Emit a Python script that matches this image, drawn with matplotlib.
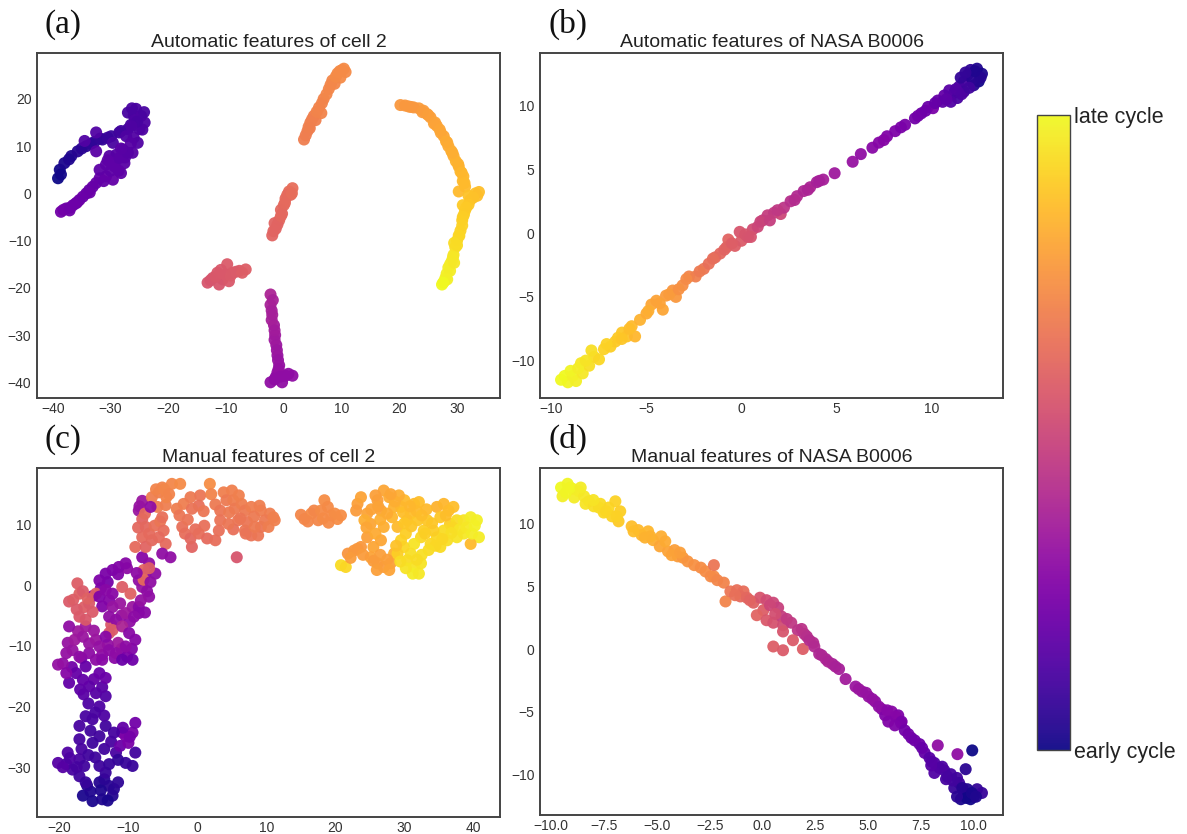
import matplotlib
matplotlib.use("Agg")
import matplotlib.pyplot as plt

plt.rcParams['font.family'] = ['Liberation Sans', 'DejaVu Sans']

# ---------------- data ----------------
# (a) Automatic features of cell 2
a_x = [-39.1, -38.8, -38.0, -36.8, -35.7, -34.2, -32.8, -31.4, -29.9, -28.5, -27.0,
       -38.6, -37.2, -35.0, -33.4, -31.8, -30.5, -28.2, -26.5, -26.0,
       -34.5, -32.5, -32.5, -29.6, -29.0, -29.3,
       -27.0, -25.6, -24.7, -24.1, -25.0, -25.3, -26.2, -27.3, -27.6, -28.2, -30.2, -27.9, -25.8, -26.0,
       -24.5, -25.4, -26.4, -24.2, -26.3,
       -29.6, -30.8, -31.9, -33.1, -34.2, -35.4, -36.5, -37.7, -38.6, -37.1, -36.0, -33.7, -31.9, -30.8, -28.6, -27.5,
       -38.2, -37.0, -35.8, -34.8, -33.6, -32.5, -31.2, -30.0, -29.3, -28.5, -27.0, -26.5, -28.2, -30.5,
       -2.3, -2.3, -2.0, -1.7, -1.5, -1.3, -1.1, -0.8, -1.1, -2.3, -1.4, 0.3, 1.5, -0.3, -2.1, -1.6,
       -1.9, -2.1, -1.6, -1.2, -1.0, -0.9, -1.6, -0.6, 0.8,
       -13.2, -12.3, -11.5, -10.6, -9.8, -8.9, -7.7, -6.6, -11.2, -9.5,
       -12.7, -11.8, -10.1, -9.2, -8.3, -7.2, -10.9,
       -2.0, -1.4, -0.8, -0.3, 0.0, 0.3, 0.9, 1.5, -1.6, -0.5, 1.2,
       -1.8, -1.1, -0.5, 0.2, 0.6, 1.4,
       3.5, 4.1, 4.6, 5.2, 6.1, 6.9, 7.8, 8.4, 9.3, 10.1, 10.7, 5.5, 6.5, 9.8, 4.5, 8.8,
       3.8, 4.3, 4.9, 5.7, 6.6, 7.4, 8.1, 9.0, 9.7, 10.4,
       20.2, 21.6, 23.4, 24.2, 25.4, 26.5, 27.7, 28.5, 29.4, 30.3, 31.1, 31.4, 30.3,
       26.0, 27.2, 28.1, 29.0, 29.8, 30.6, 31.0, 22.5, 24.8,
       21.0, 22.0, 24.0, 25.0, 26.2, 27.0, 28.3, 29.2, 30.2, 30.8, 31.3,
       33.2, 32.3, 31.4, 30.9, 30.6, 30.0, 29.7, 29.1, 28.5, 28.0, 27.4,
       33.5, 32.0, 31.0, 31.2, 30.4, 29.4, 28.8, 28.2, 27.8,
       33.8, 32.8, 32.0, 31.6, 31.0, 30.9, 30.3, 30.0, 29.5, 29.3, 28.8, 28.3, 27.6, 29.5]
a_y = [3.2, 5.0, 6.4, 7.9, 8.9, 10.0, 10.9, 11.4, 12.1, 12.9, 13.6,
       4.0, 7.2, 9.5, 10.5, 11.6, 11.8, 13.2, 14.5, 16.5,
       11.1, 12.9, 8.9, 10.7, 8.2, 5.7,
       17.1, 17.9, 16.4, 15.0, 13.6, 10.7, 8.6, 12.1, 6.4, 4.3, 7.9, 9.3, 15.5, 11.8,
       13.5, 15.2, 14.2, 17.2, 18.0,
       2.9, 3.6, 3.2, 1.4, 0.0, -1.4, -2.5, -3.2, -3.9, -3.6, -2.1, 0.7, 5.0, 6.1, 4.8, 7.6,
       -3.5, -3.0, -1.9, -0.7, 0.2, 2.2, 2.6, 4.8, 6.5, 7.5, 8.6, 10.6, 9.5, 7.0,
       -21.4, -23.6, -25.7, -27.9, -30.0, -32.1, -34.3, -36.4, -37.9, -40.0, -38.9, -38.6, -38.6, -40.0, -24.8, -31.0,
       -22.6, -26.8, -29.0, -33.2, -35.3, -37.2, -39.4, -38.8, -38.2,
       -18.9, -17.9, -16.8, -18.2, -15.0, -16.8, -16.4, -16.1, -19.3, -18.6,
       -18.4, -17.6, -17.2, -17.4, -16.6, -16.8, -16.2,
       -8.9, -7.5, -5.7, -4.3, -2.5, -1.1, 0.4, 1.1, -6.3, -3.5, -0.3,
       -8.0, -6.6, -4.8, -2.0, -0.3, 0.0,
       11.4, 13.2, 15.0, 16.4, 18.2, 20.0, 22.1, 23.9, 25.4, 26.1, 25.7, 15.5, 17.0, 24.5, 13.8, 23.2,
       12.3, 14.1, 15.7, 17.3, 19.1, 21.0, 23.0, 24.7, 25.9, 26.4,
       18.7, 18.4, 18.0, 17.5, 16.1, 14.3, 12.1, 10.0, 7.9, 5.7, 3.6, 1.4, 0.4,
       14.8, 12.8, 11.0, 9.0, 6.8, 4.6, 2.6, 18.2, 16.8,
       18.6, 18.3, 17.2, 16.6, 15.0, 13.5, 10.8, 8.6, 6.2, 4.4, 2.2,
       0.0, -1.4, -3.6, -5.7, -7.9, -10.0, -11.4, -14.3, -15.7, -17.9, -19.3,
       -0.5, -0.5, -2.5, -4.5, -9.0, -13.0, -15.0, -17.0, -18.6,
       0.3, -0.9, -2.4, -3.0, -5.0, -6.8, -8.9, -11.0, -10.5, -13.5, -16.4, -18.2, -18.9, -14.7]
a_c = [0.00, 0.01, 0.02, 0.03, 0.04, 0.05, 0.06, 0.07, 0.08, 0.09, 0.10,
       0.01, 0.03, 0.05, 0.06, 0.07, 0.08, 0.10, 0.11, 0.12,
       0.14, 0.14, 0.16, 0.12, 0.15, 0.17,
       0.12, 0.12, 0.13, 0.13, 0.13, 0.14, 0.15, 0.13, 0.16, 0.17, 0.15, 0.14, 0.13, 0.14,
       0.13, 0.12, 0.13, 0.12, 0.12,
       0.18, 0.18, 0.19, 0.19, 0.20, 0.20, 0.21, 0.21, 0.22, 0.21, 0.20, 0.19, 0.17, 0.17, 0.17, 0.16,
       0.22, 0.21, 0.21, 0.20, 0.20, 0.19, 0.18, 0.17, 0.17, 0.16, 0.15, 0.15, 0.16, 0.17,
       0.38, 0.37, 0.36, 0.35, 0.34, 0.33, 0.32, 0.31, 0.31, 0.30, 0.30, 0.30, 0.30, 0.30, 0.36, 0.34,
       0.37, 0.36, 0.35, 0.33, 0.32, 0.31, 0.30, 0.30, 0.30,
       0.55, 0.55, 0.56, 0.56, 0.57, 0.57, 0.57, 0.58, 0.55, 0.56,
       0.55, 0.56, 0.56, 0.57, 0.57, 0.58, 0.56,
       0.60, 0.60, 0.61, 0.61, 0.62, 0.62, 0.63, 0.63, 0.60, 0.61, 0.62,
       0.60, 0.60, 0.61, 0.62, 0.62, 0.63,
       0.68, 0.68, 0.69, 0.69, 0.70, 0.70, 0.71, 0.71, 0.72, 0.72, 0.72, 0.69, 0.70, 0.72, 0.68, 0.71,
       0.68, 0.69, 0.69, 0.70, 0.70, 0.71, 0.71, 0.72, 0.72, 0.72,
       0.76, 0.76, 0.77, 0.77, 0.78, 0.79, 0.80, 0.81, 0.82, 0.83, 0.84, 0.85, 0.85,
       0.79, 0.80, 0.81, 0.82, 0.83, 0.84, 0.85, 0.76, 0.78,
       0.76, 0.76, 0.77, 0.78, 0.79, 0.80, 0.81, 0.82, 0.83, 0.84, 0.85,
       0.87, 0.88, 0.89, 0.90, 0.91, 0.92, 0.93, 0.96, 0.97, 0.98, 1.00,
       0.86, 0.87, 0.89, 0.90, 0.92, 0.95, 0.97, 0.98, 0.99,
       0.86, 0.87, 0.88, 0.89, 0.90, 0.91, 0.92, 0.93, 0.93, 0.96, 0.97, 0.98, 1.00, 0.96]

# (b) Automatic features of NASA B0006
b_x = [-9.31, -9.14, -8.88, -8.71, -8.45, -8.36, -8.02, -7.76, -7.50, -7.24, -6.90, -6.64, -6.29, -6.03,
       -5.78, -5.60, -5.34, -5.00, -4.74, -4.48, -4.14, -3.97, -3.62, -3.45, -3.10, -2.76, -2.41,
       -1.98, -1.72, -1.38, -1.12, -0.78, -0.69, -0.34, -0.09, 0.00, 0.34, 0.60, 0.86, 1.12, 1.38,
       1.72, 2.07, 2.24, 2.59, 2.93, 3.28, 3.62, 3.97, 4.31, 4.91, 5.86, 6.29, 6.90, 7.24, 7.67,
       8.10, 8.62, 9.14, 9.48, 9.83, 10.09, 10.34, 10.69, 10.95, 11.21, 11.47, 11.72, 11.90, 12.07,
       12.41, 12.67, 12.50, 12.24, 11.72, 11.38, 11.03, 10.60, 11.55, 12.16,
       -9.50, -9.00, -8.60, -8.20, -7.90, -7.10, -6.50, -6.30, -5.90, -4.90, -4.30, -3.80, -3.30,
       -2.90, -2.20, -1.50, -0.90, -0.50, 0.20, 0.50, 1.00, 1.50, 1.90, 2.80, 3.50, 4.10,
       7.50, 8.40, 9.30, 9.70, 10.20, 10.80, 11.30, 11.60, 12.00, 12.60, 12.30, 11.80]
b_y = [-11.2, -11.7, -11.2, -11.6, -10.2, -11.0, -10.4, -9.7, -9.9, -9.1, -8.9, -8.5, -7.8, -8.1,
       -7.3, -8.1, -6.8, -6.3, -5.6, -5.3, -6.0, -4.9, -4.5, -5.0, -4.1, -3.4, -3.4,
       -2.8, -2.4, -1.9, -1.6, -1.1, -0.5, -1.0, 0.1, -0.6, -0.3, 0.3, 0.5, 1.0, 1.4,
       1.6, 1.5, 2.0, 2.5, 2.9, 3.3, 3.6, 4.0, 4.2, 4.7, 5.6, 6.2, 6.7, 7.1, 7.6,
       8.0, 8.5, 9.0, 9.4, 9.9, 9.8, 10.4, 10.8, 11.2, 11.0, 11.5, 11.9, 12.4, 12.8,
       12.9, 12.5, 11.9, 11.6, 11.1, 10.6, 10.3, 10.3, 12.2, 12.1,
       -11.5, -10.8, -10.6, -10.0, -9.2, -8.7, -8.2, -8.3, -7.5, -6.1, -5.5, -4.8, -4.4,
       -3.6, -3.0, -2.0, -1.3, -0.8, -0.1, -0.3, 0.9, 1.0, 1.8, 2.6, 3.4, 4.1,
       7.3, 8.3, 9.2, 9.6, 10.2, 10.5, 11.3, 10.9, 11.4, 12.2, 12.7, 12.6]
b_c = [1.00, 0.99, 0.98, 0.98, 0.96, 0.96, 0.94, 0.93, 0.92, 0.91, 0.90, 0.89, 0.88, 0.87,
       0.85, 0.84, 0.83, 0.81, 0.80, 0.79, 0.80, 0.77, 0.75, 0.76, 0.73, 0.70, 0.69,
       0.66, 0.64, 0.62, 0.61, 0.59, 0.60, 0.58, 0.55, 0.57, 0.54, 0.52, 0.50, 0.48, 0.47,
       0.46, 0.50, 0.44, 0.42, 0.40, 0.39, 0.38, 0.37, 0.36, 0.34, 0.32, 0.30, 0.28, 0.27, 0.26,
       0.25, 0.24, 0.22, 0.21, 0.20, 0.24, 0.19, 0.18, 0.16, 0.15, 0.13, 0.11, 0.08, 0.06,
       0.03, 0.02, 0.01, 0.04, 0.09, 0.12, 0.14, 0.17, 0.07, 0.05,
       1.00, 0.99, 0.97, 0.95, 0.94, 0.91, 0.89, 0.88, 0.86, 0.82, 0.79, 0.77, 0.74,
       0.72, 0.67, 0.63, 0.60, 0.58, 0.55, 0.54, 0.49, 0.47, 0.45, 0.41, 0.38, 0.36,
       0.27, 0.24, 0.22, 0.21, 0.19, 0.17, 0.14, 0.13, 0.10, 0.04, 0.03, 0.07]

# (c) Manual features of cell 2
c_x = [-16.6, -15.2, -13.8, -12.3, -12.8, -14.2, -12.1,
       -15.5, -14.0, -13.0, -16.0, -13.5, -11.5,
       -20.2, -19.0, -18.1, -17.1, -16.2, -18.8, -17.1, -16.4,
       -19.5, -18.5, -17.5, -16.8, -15.8,
       -13.3, -14.2, -11.8, -10.9, -10.4, -9.4, -9.0, -9.0, -9.4, -10.4,
       -13.5, -12.5, -11.2, -10.0, -9.8, -10.8, -11.5, -12.8, -14.8, -15.5,
       -12.1, -13.3, -14.2, -15.2, -17.1, -17.1, -16.2, -15.2, -14.2, -13.3, -14.7,
       -15.8, -14.8, -13.5, -16.5, -15.0, -17.0, -18.2, -16.8, -13.8,
       -15.7, -16.6, -17.6, -18.6, -13.3, -14.2, -16.2,
       -19.5, -20.2, -19.0, -18.1, -17.1, -15.7, -14.7,
       -19.0, -18.8, -17.3, -15.0, -13.8, -12.0, -11.0, -10.2, -9.5, -11.5, -13.0, -12.5,
       -11.0, -9.8, -11.2, -12.8, -13.8, -14.0, -13.0, -11.5, -10.2, -15.2,
       -18.6, -17.8, -16.6, -16.2, -15.7, -14.7, -14.2,
       -17.4, -18.6, -17.1, -16.4, -17.1, -15.7, -14.7, -15.2, -16.2,
       -18.0, -16.6, -15.9, -17.5,
       -14.2, -13.3, -12.3, -11.4, -10.4, -14.2, -13.3, -12.3, -12.3, -11.8,
       -12.8, -12.3, -10.9, -10.4, -10.9, -9.7, -9.4, -9.9, -9.0, -10.4, -11.8, -12.8, -13.8,
       -10.9, -9.4, -13.3, -12.8,
       -8.5, -7.5, -8.0, -7.0, -8.5, -8.5, -6.1, -8.0, -7.0, -7.8, -7.8,
       -8.8, -7.3, -8.2, -7.6, -9.2, -6.8, -7.0,
       -8.0, -8.5, -8.0, -7.5, -8.0, -9.0, -7.5, -6.6, -6.6, -5.6, -5.1, -3.7, -2.5,
       -8.4, -7.6, -8.6, -7.0, -6.2, -5.4, -4.6, -4.5, -6.0, -4.8,
       -4.1, -5.8, -6.8, -5.1, -4.9, -4.6, -5.1, -3.9, -5.6,
       -3.0, -2.0, -1.0, 0.4, 0.2, -0.8, -2.2, -1.8, -0.8, -1.0, 0.2, 1.8, 2.0, 1.4, 2.6,
       -2.6, -1.4, 0.9, 1.0, -0.3, 2.6,
       3.1, 3.3, 3.8, 5.0, 4.2, 5.2, 5.4, 6.4, 6.9, 5.9, 5.7, 6.9, 7.8, 8.8, 7.8, 9.2,
       4.6, 6.2, 7.2, 8.2, 9.2, 10.5, 9.0, 7.0, 5.2, 6.0,
       9.8, 10.3, 11.2, 11.0, 3.3, 4.5, 8.3,
       15.5, 16.5, 17.5, 18.4, 18.9, 19.4, 20.3, 16.9, 17.9, 19.9,
       16.0, 18.2, 19.0, 20.8, 15.0,
       20.8, 21.5, 21.8, 22.7, 23.7, 23.2, 23.7, 23.0, 24.6, 25.1, 24.6, 25.5, 25.1, 26.1,
       27.0, 28.0, 28.5, 26.6, 27.0, 26.6, 26.1, 27.0, 27.8, 28.5, 28.2, 29.0, 30.0, 29.5,
       30.4, 30.9, 31.4, 32.1, 31.9, 32.8, 32.4, 31.4, 30.9, 30.4, 31.4, 31.2, 32.1, 32.4,
       29.9, 29.5, 29.0, 33.8, 34.7, 35.7, 36.4, 37.1, 35.2, 36.6, 37.6, 38.6, 39.6, 40.5,
       40.8, 39.6, 38.6, 37.6, 36.2, 35.2, 34.7, 35.7, 34.2, 33.3, 24.2,
       22.2, 23.2, 24.0, 24.5, 25.8, 26.5, 27.5, 28.6, 29.8, 30.2, 31.0, 31.8, 32.5, 33.2,
       33.0, 34.0, 36.0, 37.0, 38.0, 39.0, 39.8, 40.2, 36.8, 35.5, 34.5, 33.5, 32.5, 31.8,
       30.2, 29.4, 27.5, 26.5, 25.5, 26.0, 27.8, 28.8, 30.0, 30.8, 29.2, 28.0, 26.2, 25.2, 25.8]
c_y = [-34.7, -35.6, -35.3, -34.7, -33.1, -32.5, -33.6,
       -34.0, -33.8, -35.5, -33.0, -32.0, -32.5,
       -29.3, -29.5, -30.4, -31.5, -32.5, -27.6, -28.7, -29.8,
       -30.0, -28.5, -30.0, -27.0, -28.0,
       -30.9, -29.8, -27.6, -24.3, -24.9, -24.3, -22.7, -27.6, -29.8, -29.3,
       -27.0, -25.8, -26.5, -26.0, -25.0, -23.5, -28.8, -29.5, -28.4, -24.0,
       -24.3, -23.2, -24.9, -26.0, -25.4, -23.2, -21.6, -22.1, -20.0, -18.3, -17.8,
       -19.5, -21.0, -21.5, -18.0, -15.5, -17.2, -13.5, -12.0, -16.8,
       -16.7, -15.6, -14.5, -16.1, -15.3, -14.5, -13.4,
       -12.9, -13.1, -11.2, -10.7, -11.8, -11.2, -12.3,
       -14.5, -9.5, -7.6, -7.5, -11.5, -12.0, -10.5, -11.8, -10.5, -9.5, -9.8, -6.5,
       -5.0, -6.0, -3.0, -2.5, -3.5, -0.5, 0.5, 1.8, 2.8, -1.8,
       -6.8, -9.0, -8.5, -6.8, -9.6, -9.0, -10.1,
       0.3, -2.7, -1.4, -3.6, -5.2, -3.0, -1.4, -4.4, -5.7,
       -2.4, -1.0, -2.2, -4.0,
       0.8, 1.9, 2.5, 3.0, 3.6, -1.9, -0.8, -1.4, -3.6, -5.7,
       -7.9, -7.4, -6.8, -4.6, -0.3, -1.4, -3.6, -7.9, -9.0, -10.1, -11.2, -10.7, -12.3,
       -12.3, -12.3, -8.5, -5.2,
       0.8, 1.9, -0.3, -1.9, -3.6, -4.6, 1.9, 4.6, 3.6, 2.5, 0.9,
       2.0, -1.0, -2.5, -4.5, -5.2, 0.5, 2.8,
       13.9, 12.3, 10.9, 9.6, 7.9, 6.3, 6.3, 7.4, 14.5, 15.3, 16.1, 16.7, 16.7,
       13.0, 11.8, 9.5, 8.5, 9.8, 10.5, 13.2, 14.5, 15.8, 15.8,
       15.0, 12.9, 12.9, 11.2, 9.0, 6.8, 5.2, 4.6, 7.9,
       12.6, 13.4, 14.5, 14.8, 13.1, 12.6, 9.6, 8.5, 6.3, 7.7, 8.5, 16.7, 15.0, 7.7, 7.4,
       11.5, 10.8, 12.2, 9.8, 9.2, 13.3,
       9.0, 12.3, 15.3, 15.6, 14.0, 14.0, 12.6, 13.4, 12.3, 10.7, 4.6, 9.0, 8.2, 8.2, 12.9, 12.3,
       12.0, 11.0, 10.4, 11.3, 9.6, 11.8, 13.1, 8.5, 9.2, 14.8,
       10.7, 9.6, 10.7, 11.2, 10.7, 10.1, 9.6,
       10.9, 11.8, 10.7, 14.0, 12.9, 11.5, 10.9, 12.3, 12.3, 11.8,
       10.5, 11.0, 10.3, 11.5, 11.6,
       3.3, 3.0, 5.2, 5.7, 6.3, 13.4, 14.5, 12.3, 11.8, 10.1, 7.9, 6.3, 4.6, 3.6,
       3.0, 3.6, 5.2, 7.4, 9.6, 12.3, 14.0, 15.6, 14.5, 12.9, 11.2, 9.6, 14.0, 12.9,
       10.7, 11.8, 13.4, 13.7, 10.7, 9.0, 7.9, 6.8, 5.2, 4.1, 3.0, 1.9, 1.9, 3.6,
       6.3, 7.4, 5.2, 6.8, 12.9, 13.4, 12.3, 12.9, 11.2, 10.1, 10.7, 10.7, 11.2, 10.7,
       7.9, 6.8, 8.5, 7.9, 7.4, 6.3, 7.9, 9.0, 9.0, 10.7, 10.7,
       4.5, 6.0, 5.0, 9.5, 8.5, 10.8, 11.8, 13.8, 12.0, 8.5, 9.7, 12.2, 11.5, 12.5,
       8.5, 10.2, 11.5, 9.5, 9.2, 9.5, 8.5, 9.8, 8.6, 7.6, 6.5, 5.8, 5.0, 4.2,
       2.8, 3.9, 4.2, 5.0, 4.0, 2.5, 2.5, 6.5, 10.2, 13.0, 14.8, 15.0, 13.0, 12.5, 14.8]
c_c = [0.02, 0.02, 0.03, 0.04, 0.05, 0.04, 0.05,
       0.03, 0.03, 0.02, 0.04, 0.05, 0.06,
       0.15, 0.14, 0.12, 0.10, 0.08, 0.14, 0.12, 0.10,
       0.15, 0.13, 0.11, 0.12, 0.10,
       0.08, 0.09, 0.12, 0.22, 0.25, 0.24, 0.22, 0.10, 0.08, 0.08,
       0.10, 0.12, 0.20, 0.24, 0.23, 0.18, 0.07, 0.08, 0.09, 0.10,
       0.11, 0.10, 0.10, 0.09, 0.11, 0.12, 0.12, 0.12, 0.13, 0.14, 0.15,
       0.13, 0.12, 0.13, 0.16, 0.19, 0.17, 0.22, 0.24, 0.16,
       0.17, 0.18, 0.19, 0.18, 0.20, 0.20, 0.19,
       0.30, 0.31, 0.31, 0.32, 0.30, 0.29, 0.29,
       0.27, 0.32, 0.34, 0.33, 0.29, 0.28, 0.27, 0.25, 0.26, 0.34, 0.31, 0.56,
       0.31, 0.30, 0.33, 0.27, 0.26, 0.24, 0.23, 0.26, 0.29, 0.28,
       0.30, 0.34, 0.33, 0.34, 0.32, 0.33, 0.31,
       0.58, 0.57, 0.59, 0.58, 0.56, 0.57, 0.58, 0.57, 0.56,
       0.58, 0.57, 0.59, 0.57,
       0.25, 0.24, 0.25, 0.26, 0.27, 0.26, 0.28, 0.28, 0.32, 0.30,
       0.56, 0.57, 0.38, 0.34, 0.58, 0.59, 0.33, 0.28, 0.27, 0.29, 0.30, 0.29, 0.28,
       0.20, 0.21, 0.28, 0.30,
       0.30, 0.28, 0.32, 0.30, 0.28, 0.27, 0.30, 0.27, 0.30, 0.60, 0.62,
       0.29, 0.30, 0.31, 0.28, 0.29, 0.30, 0.58,
       0.33, 0.33, 0.60, 0.61, 0.62, 0.62, 0.60, 0.61, 0.68, 0.69, 0.70, 0.71, 0.72,
       0.32, 0.62, 0.61, 0.62, 0.64, 0.66, 0.68, 0.70, 0.70, 0.71,
       0.70, 0.68, 0.30, 0.64, 0.63, 0.62, 0.30, 0.30, 0.62,
       0.68, 0.68, 0.67, 0.66, 0.64, 0.65, 0.64, 0.63, 0.60, 0.61, 0.63, 0.73, 0.70, 0.62, 0.63,
       0.66, 0.65, 0.66, 0.64, 0.63, 0.67,
       0.64, 0.66, 0.69, 0.69, 0.67, 0.68, 0.67, 0.68, 0.67, 0.66, 0.55, 0.66, 0.65, 0.66, 0.68, 0.68,
       0.67, 0.66, 0.66, 0.67, 0.66, 0.68, 0.68, 0.65, 0.64, 0.69,
       0.67, 0.68, 0.69, 0.69, 0.65, 0.66, 0.67,
       0.71, 0.72, 0.71, 0.73, 0.72, 0.72, 0.73, 0.71, 0.72, 0.73,
       0.71, 0.72, 0.72, 0.73, 0.71,
       0.93, 0.92, 0.75, 0.76, 0.76, 0.78, 0.79, 0.77, 0.79, 0.80, 0.78, 0.80, 0.79, 0.77,
       0.77, 0.78, 0.82, 0.80, 0.82, 0.79, 0.78, 0.80, 0.81, 0.83, 0.84, 0.85, 0.85, 0.84,
       0.86, 0.86, 0.85, 0.86, 0.88, 0.90, 0.92, 0.95, 0.94, 0.93, 0.95, 0.97, 0.96, 0.95,
       0.92, 0.91, 0.90, 0.92, 0.83, 0.84, 0.85, 0.86, 0.88, 0.90, 0.93, 0.95, 0.97, 0.98,
       0.97, 0.85, 0.96, 0.95, 0.94, 0.93, 0.92, 0.93, 0.90, 0.88, 0.82,
       0.77, 0.76, 0.77, 0.80, 0.81, 0.82, 0.81, 0.82, 0.86, 0.90, 0.88, 0.85, 0.86, 0.85,
       0.90, 0.88, 0.86, 0.92, 0.95, 0.96, 0.97, 0.98, 0.94, 0.92, 0.92, 0.93, 0.94, 0.93,
       0.95, 0.93, 0.78, 0.78, 0.77, 0.78, 0.79, 0.87, 0.88, 0.84, 0.82, 0.80, 0.79, 0.79, 0.78]

# (d) Manual features of NASA B0006
d_x = [-9.53, -9.22, -8.99, -9.46, -8.91, -8.68, -8.44, -8.21, -8.37, -7.98, -7.67, -7.51, -7.28, -6.96,
       -7.12, -6.73, -6.81, -7.74,
       -9.30, -9.10, -8.60, -8.00, -7.40, -6.90,
       -6.19, -5.88, -5.72, -5.41, -5.56, -5.18, -4.79, -4.86, -4.47, -4.16, -4.01, -3.77, -3.54, -3.23,
       -6.10, -5.30, -4.60, -4.30, -3.90, -2.70, -2.30,
       -2.92, -2.30, -2.45, -2.14, -1.83, -1.75, -1.52, -1.21, -0.90, -1.05, -0.74, -0.43, -0.12, 0.19,
       0.51, 0.74, 0.04, -0.27, 0.19, 0.51, 0.90, 0.97, 1.36, 1.67, 1.98, 0.97,
       -1.30, -0.60, 0.35, 0.60, 1.15, 1.85, 2.10, 2.40,
       0.51, 0.97, 1.44, 1.91,
       2.22, 2.45, 2.68, 2.99, 3.31, 3.62, 3.93, 4.40, 4.71, 5.02, 5.33, 5.64, 5.80, 6.11, 6.42,
       2.80, 3.10, 3.45, 4.55, 4.90, 5.20, 5.50, 5.90, 6.30, 6.55,
       6.58, 6.26, 5.95, 6.73, 7.04, 7.43, 7.67, 7.90, 8.13, 8.37, 8.60, 8.91,
       6.90, 7.20, 7.55, 8.00, 8.50, 8.75, 9.20,
       8.29, 9.22, 9.92, 9.61,
       9.30, 9.07, 9.53, 9.84, 9.38, 10.15, 10.38, 9.99, 9.69, 8.99, 8.68, 8.13, 7.98,
       9.45, 9.65, 9.90, 10.10, 9.20]
d_y = [12.9, 13.2, 12.8, 12.2, 12.1, 12.6, 12.2, 11.8, 11.6, 11.4, 11.6, 10.9, 11.3, 11.8,
       10.6, 11.0, 10.2, 11.3,
       12.5, 12.9, 12.9, 11.9, 11.0, 10.6,
       9.8, 9.5, 9.1, 9.4, 8.9, 8.7, 9.0, 8.2, 7.8, 7.9, 7.4, 7.3, 7.0, 6.7,
       9.4, 9.0, 8.6, 7.5, 7.7, 6.2, 5.8,
       6.5, 6.7, 5.8, 5.5, 5.3, 3.8, 4.6, 4.7, 4.6, 4.2, 4.1, 3.7, 4.1, 3.9,
       3.7, 3.3, 3.1, 2.7, 2.3, 2.1, 2.6, 1.9, 2.1, 1.5, 1.2, 1.4,
       4.3, 3.9, 3.5, 2.8, 2.4, 1.6, 1.0, 0.5,
       0.2, -0.1, 0.7, 0.0,
       0.7, 0.2, -0.4, -0.8, -1.2, -1.6, -2.4, -3.0, -3.4, -3.8, -4.2, -4.8, -5.3, -5.0, -5.3,
       -0.5, -1.0, -1.4, -3.2, -3.5, -4.0, -4.6, -4.9, -5.4, -5.9,
       -5.8, -6.1, -5.8, -6.5, -7.1, -7.6, -8.3, -8.7, -9.1, -9.5, -9.7, -10.0,
       -6.8, -7.3, -7.9, -9.0, -9.4, -10.2, -10.3,
       -7.7, -8.4, -8.1, -9.6,
       -10.7, -11.1, -11.5, -12.0, -12.0, -11.2, -11.5, -11.8, -11.2, -10.5, -10.4, -9.9, -9.3,
       -11.1, -11.9, -11.5, -11.8, -11.8]
d_c = [1.00, 0.99, 0.99, 0.98, 0.97, 0.97, 0.96, 0.95, 0.95, 0.94, 0.93, 0.92, 0.92, 0.91,
       0.91, 0.90, 0.89, 0.93,
       0.99, 0.99, 0.97, 0.95, 0.92, 0.91,
       0.86, 0.85, 0.84, 0.84, 0.83, 0.82, 0.82, 0.80, 0.79, 0.78, 0.77, 0.76, 0.75, 0.74,
       0.86, 0.83, 0.81, 0.79, 0.78, 0.73, 0.72,
       0.73, 0.66, 0.72, 0.71, 0.70, 0.70, 0.66, 0.64, 0.63, 0.62, 0.61, 0.59, 0.55, 0.52,
       0.50, 0.48, 0.58, 0.60, 0.56, 0.54, 0.47, 0.52, 0.45, 0.44, 0.42, 0.55,
       0.64, 0.60, 0.50, 0.53, 0.46, 0.43, 0.42, 0.41,
       0.58, 0.57, 0.57, 0.58,
       0.41, 0.40, 0.39, 0.38, 0.37, 0.36, 0.35, 0.33, 0.32, 0.31, 0.30, 0.29, 0.26, 0.28, 0.25,
       0.39, 0.38, 0.37, 0.33, 0.32, 0.31, 0.30, 0.28, 0.27, 0.25,
       0.24, 0.25, 0.26, 0.22, 0.21, 0.20, 0.18, 0.16, 0.14, 0.13, 0.12, 0.11,
       0.22, 0.21, 0.19, 0.15, 0.13, 0.11, 0.10,
       0.30, 0.30, 0.00, 0.05,
       0.09, 0.08, 0.04, 0.01, 0.02, 0.07, 0.08, 0.02, 0.03, 0.10, 0.11, 0.14, 0.15,
       0.04, 0.01, 0.02, 0.03, 0.05]

panels = [
    ("(a)", "Automatic features of cell 2", a_x, a_y, a_c, (37, 53, 500, 398)),
    ("(b)", "Automatic features of NASA B0006", b_x, b_y, b_c, (540, 53, 1003, 398)),
    ("(c)", "Manual features of cell 2", c_x, c_y, c_c, (37, 468, 500, 817)),
    ("(d)", "Manual features of NASA B0006", d_x, d_y, d_c, (540, 468, 1003, 815)),
]
tick_sets = {
    "(a)": ([-40, -30, -20, -10, 0, 10, 20, 30], [-40, -30, -20, -10, 0, 10, 20]),
    "(b)": ([-10, -5, 0, 5, 10], [-10, -5, 0, 5, 10]),
    "(c)": ([-20, -10, 0, 10, 20, 30, 40], [-30, -20, -10, 0, 10]),
    "(d)": ([-10.0, -7.5, -5.0, -2.5, 0.0, 2.5, 5.0, 7.5, 10.0], [-10, -5, 0, 5, 10]),
}

W, H = 1187, 834
fig = plt.figure(figsize=(W / 100, H / 100), dpi=100)
fig.patch.set_facecolor("white")

cmap = plt.get_cmap("plasma")
sc = None
for lab, title, xs, ys, cs, (l, t, r, b) in panels:
    ax = fig.add_axes([l / W, 1 - b / H, (r - l) / W, (b - t) / H])
    sc = ax.scatter(xs, ys, c=cs, cmap=cmap, vmin=0, vmax=1, s=75, linewidths=0, alpha=0.95)
    ax.set_title(title, fontsize=14, color="#222222", pad=4)
    xt, yt = tick_sets[lab]
    ax.set_xticks(xt)
    ax.set_yticks(yt)
    if lab == "(d)":
        ax.set_xticklabels([f"{v:.1f}".replace("-", "\u2212") for v in xt])
    ax.tick_params(axis="x", length=0, labelsize=10, colors="#333333", pad=3)
    ax.tick_params(axis="y", length=0, labelsize=10, colors="#333333", pad=4)
    for sp in ax.spines.values():
        sp.set_color("#444444")
        sp.set_linewidth(1.4)
    fig.text((l + 8) / W, 1 - (t - 13) / H, lab, fontsize=24, family="Liberation Serif",
             ha="left", va="bottom", color="#111111")

cax = fig.add_axes([1037 / W, 1 - 750 / H, 33 / W, (750 - 115) / H])
cb = fig.colorbar(sc, cax=cax, ticks=[0, 1])
cb.ax.set_yticklabels(["early cycle", "late cycle"])
cb.ax.tick_params(length=0, labelsize=15.5, colors="#222222", pad=3)
cb.outline.set_edgecolor("#444444")
cb.outline.set_linewidth(1.0)

fig.savefig("out.png", dpi=100, facecolor="white")
